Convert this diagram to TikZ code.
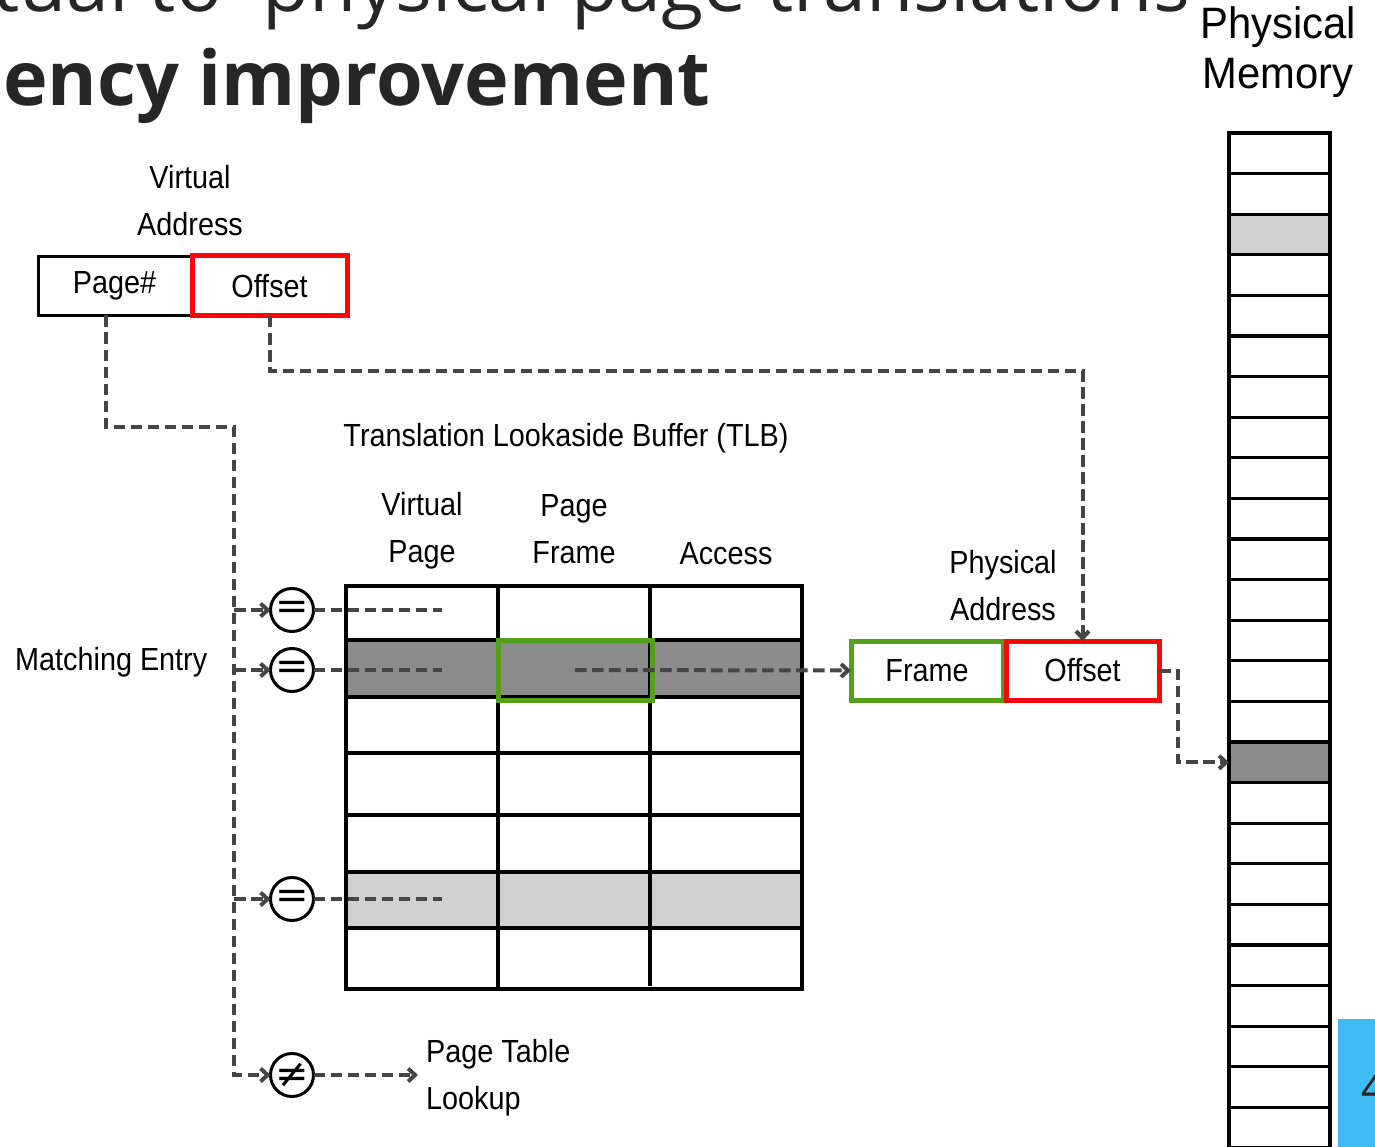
\documentclass[tikz,border=0pt]{standalone}
\usepackage{fontspec}
\usetikzlibrary{arrows.meta,calc}
\setmainfont{Liberation Sans}
\newfontfamily\dfont[FakeStretch=0.9]{Liberation Sans}
\newfontfamily\memfont[FakeStretch=0.95]{Liberation Sans}
\newfontfamily\ttlfont{Open Sans}
\newfontfamily\symfont{DejaVu Sans}
\definecolor{dashcol}{HTML}{454545}
\definecolor{darkfill}{HTML}{8C8C8C}
\definecolor{lightfill}{HTML}{D0D0D0}
\definecolor{grn}{HTML}{55A01A}
\definecolor{rd}{HTML}{F80808}
\definecolor{bluecol}{HTML}{3DBBF2}
\definecolor{ttlcol}{HTML}{262626}
\begin{document}
\begin{tikzpicture}[x=1pt,y=-1pt,
  lbl/.style={font={\dfont\fontsize{32}{47}\selectfont}, align=center, inner sep=0pt},
  fieldbox/.style={draw, font={\dfont\fontsize{32}{47}\selectfont}, inner sep=0pt, outer sep=0pt, minimum height=59pt},
  blackbox/.style={fieldbox, draw=black, line width=3pt},
  redbox/.style={fieldbox, draw=rd, line width=5pt},
  greenbox/.style={fieldbox, draw=grn, line width=5pt},
  cmp/.style={circle, draw=black, line width=3pt, minimum size=43pt, inner sep=0pt, outer sep=0pt, font={\symfont\fontsize{40}{40}\selectfont}},
  dashline/.style={draw=dashcol, line width=4pt, dash pattern=on 11.5pt off 5.5pt},
  tip/.style={-{Straight Barb[length=7pt,width=13pt]}},
  memcell/.style={draw=black, line width=3.2pt, minimum width=101pt, minimum height=40.6pt, inner sep=0pt, outer sep=0pt},
  grid/.style={draw=black, line width=3.2pt}
]
\useasboundingbox (0,0) rectangle (1375,1147);

% title fragments
\node[anchor=base west, inner sep=0pt, text=ttlcol, font={\ttlfont\fontsize{77}{90}\selectfont}] (ttl1) at (-8,12) {tual to\hspace{20pt} physical page translations};
\node[anchor=base west, inner sep=0pt, text=ttlcol, font={\ttlfont\bfseries\fontsize{75.5}{90}\selectfont}] (ttl2) at (3,106) {ency improvement};

% physical memory
\node[align=center, inner sep=0pt, font={\memfont\fontsize{44}{50}\selectfont}] (pmlabel) at (1278,52) {Physical\\Memory};
\foreach \i in {0,...,25}{
  \def\cellfill{white}
  \ifnum\i=2 \def\cellfill{lightfill}\fi
  \ifnum\i=15 \def\cellfill{darkfill}\fi
  \node[memcell, fill=\cellfill] (mem\i) at (1279.5,{153.3+40.6*\i}) {};
}
\fill[bluecol] (1338,1019) rectangle (1385,1160);
\node[anchor=base west, inner sep=0pt, text=ttlcol, font={\ttlfont\fontsize{44}{50}\selectfont}] (pagenum) at (1361,1103) {4};

% virtual address
\node[lbl] (valabel) at (190,201) {Virtual\\Address};
\node[blackbox, minimum width=153pt] (pagebox) at (114.5,286) {Page\#};
\node[redbox, minimum width=155pt, minimum height=60pt] (voff) at (269.5,286) {Offset};

% TLB
\node[lbl] (tlbtitle) at (566,438) {Translation Lookaside Buffer (TLB)};
\node[lbl] (hvp) at (422,531) {Virtual\\Page};
\node[lbl] (hpf) at (574,529) {Page\\Frame};
\node[lbl] (hacc) at (726,554) {Access};

\fill[lightfill] (346,872) rectangle (802,928);
\fill[darkfill] (346,640) rectangle (802,697);
\draw[grid] (346,586) rectangle (802,989);
\draw[grid] (498,586) -- (498,989);
\draw[grid] (650,586) -- (650,986);
\foreach \yy in {753,815,872,928}{ \draw[grid] (346,\yy) -- (802,\yy); }
\draw[grid, line width=4.5pt] (346,640) rectangle (802,697);
\node[greenbox, minimum width=154pt, minimum height=60pt] (tlbframe) at (575,670) {};

% physical address
\node[lbl] (palabel) at (1003,586) {Physical\\Address};
\node[greenbox, minimum width=152pt] (pframe) at (927,670.5) {Frame};
\node[redbox, minimum width=153pt] (poff) at (1082.5,670.5) {Offset};

% comparators
\node[cmp] (eq1) at (292,610) {=};
\node[cmp] (eq2) at (292,670) {=};
\node[cmp] (eq3) at (292,899) {=};
\node[cmp] (neq) at (292,1075) {≠};

\node[lbl, anchor=west] (match) at (15,662) {Matching Entry};
\node[lbl, anchor=west, align=left, inner xsep=8pt] (ptl) at (418,1078) {Page Table\\Lookup};

\coordinate (trunk) at (234,427);
\coordinate (rowend) at (442,0);
\coordinate (offrow) at (700,371);

% connectors
\draw[dashline, tip] ([xshift=-8.5pt]pagebox.south) |- (trunk) -- (trunk |- neq) -- (neq.west);
\foreach \c in {eq1,eq2,eq3}{
  \draw[dashline, tip] (trunk |- \c) -- (\c.west);
  \draw[dashline] (\c.east) -- (\c -| rowend);
}
\draw[dashline, tip] (neq.east) -- (ptl.west |- neq);
\draw[dashline, tip] (voff.south) |- (offrow) -| (poff.north);
\draw[dashline, tip] (tlbframe.center) -- (pframe.west);
\draw[dashline, tip] (poff.east) -- ++(19,0) |- (mem15.west);
\end{tikzpicture}
\end{document}
